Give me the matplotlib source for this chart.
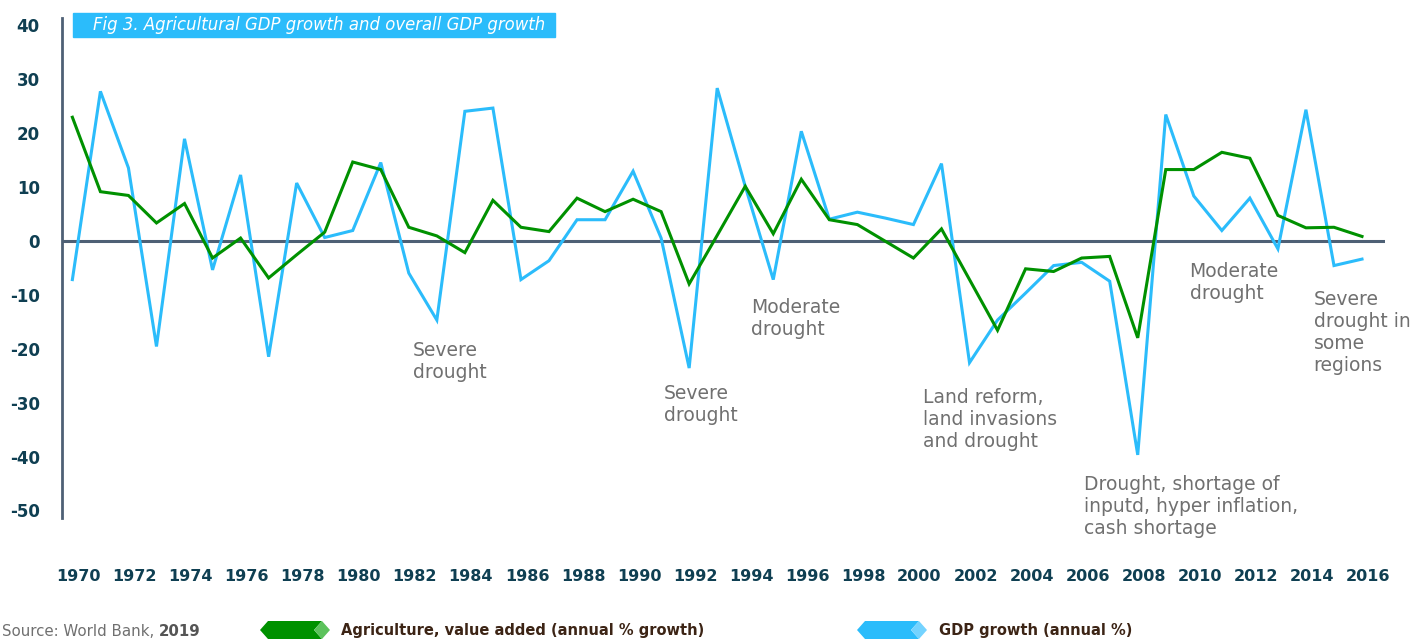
import matplotlib
matplotlib.use("Agg")
import matplotlib.pyplot as plt
from matplotlib.patches import Polygon, Rectangle
from matplotlib.transforms import ScaledTranslation

# ---------------- data ----------------
years = list(range(1970, 2017))
agri_growth = [22.9, 9.1, 8.4, 3.3, 6.9, -3.2, 0.5, -6.9, -2.6, 1.6,
               14.6, 13.2, 2.5, 0.9, -2.2, 7.5, 2.5, 1.7, 7.9, 5.4,
               7.7, 5.4, -8.0, 1.0, 10.1, 1.3, 11.4, 3.9, 3.0, -0.1,
               -3.2, 2.2, -7.2, -16.6, -5.2, -5.7, -3.2, -2.9, -18.0, 13.2,
               13.2, 16.4, 15.3, 4.7, 2.4, 2.5, 0.8]
gdp_growth = [-7.2, 27.7, 13.5, -19.6, 18.9, -5.4, 12.2, -21.5, 10.7, 0.6,
              1.9, 14.5, -6.0, -14.7, 24.0, 24.6, -7.2, -3.7, 3.9, 3.9,
              12.9, 0.5, -23.6, 28.3, 10.1, -7.2, 20.3, 4.0, 5.3, 4.2,
              3.0, 14.3, -22.6, -14.7, -9.7, -4.6, -4.0, -7.5, -39.7, 23.4,
              8.3, 1.9, 7.9, -1.5, 24.3, -4.6, -3.4]
xtick_years = list(range(1970, 2017, 2))
yticks = list(range(-50, 41, 10))

annotations = [
    ("Severe\ndrought", 1982.15, -18.6),
    ("Severe\ndrought", 1991.10, -26.6),
    ("Moderate\ndrought", 1994.20, -10.6),
    ("Land reform,\nland invasions\nand drought", 2000.33, -27.3),
    ("Drought, shortage of\ninputd, hyper inflation,\ncash shortage", 2006.07, -43.4),
    ("Moderate\ndrought", 2009.85, -4.0),
    ("Severe\ndrought in\nsome\nregions", 2014.27, -9.1),
]

title_text = "Fig 3. Agricultural GDP growth and overall GDP growth"
series_labels = ["Agriculture, value added (annual % growth)", "GDP growth (annual %)"]

# ---------------- styling ----------------
W, H = 1416, 639
GREEN = "#009100"
GREEN_L = "#5cc25c"
BLUE = "#2bbcfb"
BLUE_L = "#74d3ff"
AXIS = "#4e6075"
TICK = "#0f3f52"
NOTE = "#707070"
LEG_TXT = "#3c2415"

plt.rcParams['font.family'] = ['DejaVu Sans']

fig = plt.figure(figsize=(W / 100, H / 100), dpi=100)
ax = fig.add_axes([62 / W, 1 - 518 / H, (1385 - 62) / W, (518 - 18) / H])

ax.plot(years, gdp_growth, color=BLUE, lw=2.2, solid_joinstyle='miter', zorder=3)
ax.plot(years, agri_growth, color=GREEN, lw=2.2, solid_joinstyle='miter', zorder=4)
ax.axhline(0, color=AXIS, lw=2.2, zorder=2)

ax.set_xlim(1969.63, 2016.82)
ax.set_ylim(-51.4, 41.3)

for s in ["top", "right", "bottom"]:
    ax.spines[s].set_visible(False)
ax.spines["left"].set_color(AXIS)
ax.spines["left"].set_linewidth(2.0)

ax.set_yticks(yticks)
ax.set_yticklabels([str(v) for v in yticks])
ax.set_xticks(xtick_years)
ax.set_xticklabels([str(v) for v in xtick_years])
ax.tick_params(axis='both', length=0, colors=TICK)
ax.tick_params(axis='y', pad=16, labelsize=12)
ax.tick_params(axis='x', pad=37, labelsize=11.5)
for lab in ax.get_yticklabels() + ax.get_xticklabels():
    lab.set_fontweight('bold')
    lab.set_color(TICK)
off = ScaledTranslation(6 / 100, 0, fig.dpi_scale_trans)
for lab in ax.get_xticklabels():
    lab.set_transform(lab.get_transform() + off)

for txt, x, y in annotations:
    ax.text(x, y, txt, color=NOTE, fontsize=13.5, ha='left', va='top',
            linespacing=1.2, zorder=5)

# title box
def fx(px):
    return px / W

def fy(py):
    return 1 - py / H

fig.patches.append(Rectangle((fx(73), fy(37)), fx(555) - fx(73), fy(13) - fy(37),
                             transform=fig.transFigure, color=BLUE, zorder=5))
fig.text(fx(93), fy(25), title_text, color="white", fontsize=11.9,
         style='italic', ha='left', va='center', zorder=6)

# source
src = fig.text(fx(2), fy(632), "Source: World Bank, ", color=NOTE, fontsize=10.8,
               ha='left', va='center')
ax.annotate("2019", xy=(1, 0.5), xycoords=src, color="#555555", fontsize=10.8,
            fontweight='bold', ha='left', va='center', annotation_clip=False)

# legend markers
def leg_marker(x0, dark, light):
    cy, hh = 630, 9
    body = [(x0, cy), (x0 + 8, cy - hh), (x0 + 62, cy - hh), (x0 + 54, cy),
            (x0 + 62, cy + hh), (x0 + 8, cy + hh)]
    tip = [(x0 + 62, cy - hh), (x0 + 70, cy), (x0 + 62, cy + hh), (x0 + 54, cy)]
    for pts, c in ((body, dark), (tip, light)):
        fig.patches.append(Polygon([(fx(a), fy(b)) for a, b in pts], closed=True,
                                   transform=fig.transFigure, color=c, lw=0))

leg_marker(260, GREEN, GREEN_L)
leg_marker(857, BLUE, BLUE_L)
fig.text(fx(341), fy(630), series_labels[0], color=LEG_TXT, fontsize=10.5,
         fontweight='bold', ha='left', va='center')
fig.text(fx(939), fy(630), series_labels[1], color=LEG_TXT, fontsize=10.5,
         fontweight='bold', ha='left', va='center')

fig.savefig("out.png", dpi=100)
